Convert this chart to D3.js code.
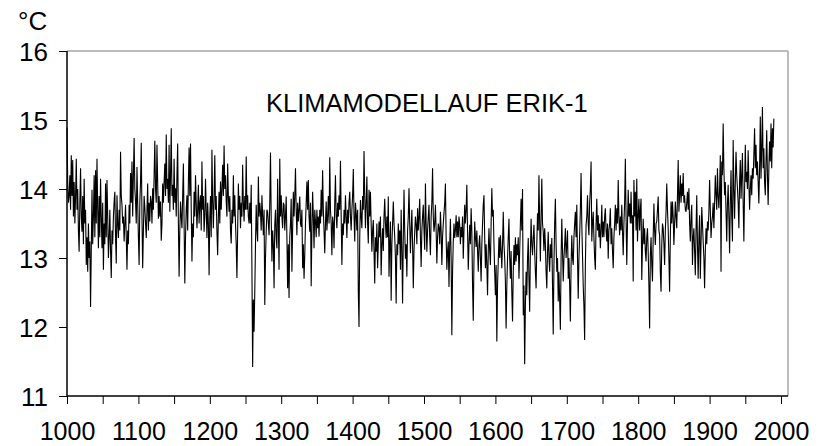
<!DOCTYPE html>
<html>
<head>
<meta charset="utf-8">
<script src="https://cdn.jsdelivr.net/npm/d3@7"></script>
<style>
  html, body { margin: 0; padding: 0; background: #fff; }
  svg { display: block; }
  text { font-family: "Liberation Sans", Arial, sans-serif; fill: #000; }
</style>
</head>
<body>
<div id="chart"></div>
<script>
// ---- data ----
const startYear = 1000;
const temps = [
14.89,14.1,13.8,13.9,14.2,13.7,14.49,13.9,14.42,13.6,
14.1,13.5,13.9,14.44,13.7,14.0,13.4,13.09,13.8,14.30,
13.6,13.38,13.9,13.2,14.15,13.5,13.7,12.90,13.3,12.80,
13.5,13.0,13.24,12.29,13.1,13.99,13.2,13.6,14.20,13.3,
14.27,13.5,14.44,13.7,13.14,13.9,13.3,14.15,13.6,13.14,
13.8,12.83,13.5,13.2,14.08,13.3,14.13,13.6,13.0,13.29,
13.7,13.1,12.71,13.4,13.2,13.6,13.82,13.96,13.3,12.92,
13.91,13.5,13.29,13.7,13.4,14.54,13.9,13.77,13.5,13.6,
13.24,13.5,13.77,13.3,12.83,13.4,13.2,13.77,13.5,14.23,
13.8,14.40,13.6,14.2,14.74,14.0,13.82,13.5,14.32,13.8,
13.3,12.90,13.8,14.1,14.67,13.6,12.85,13.4,13.9,13.74,
13.5,13.29,13.7,14.08,13.4,13.8,13.53,13.9,13.82,13.5,
14.01,13.7,14.2,14.70,14.0,13.8,14.64,14.1,13.57,13.9,
13.6,13.82,13.25,13.5,14.08,13.8,14.1,14.37,13.9,14.79,
14.0,14.15,13.8,14.64,13.67,14.2,14.88,13.9,14.06,13.7,
14.44,13.8,14.01,13.6,14.2,14.66,13.5,12.73,13.4,13.82,
13.6,13.43,13.9,14.37,13.5,12.63,13.3,13.7,13.91,13.4,
14.1,14.60,13.9,14.66,13.7,12.95,13.5,13.3,13.96,13.6,
14.20,13.8,13.43,13.7,14.06,13.5,13.8,13.91,13.4,14.40,
13.7,13.9,13.38,13.6,14.15,13.7,13.29,13.8,13.5,12.75,
13.6,13.9,13.3,14.57,13.8,13.43,13.9,14.49,13.7,13.9,
13.38,13.04,13.6,13.96,13.5,14.11,13.7,14.0,14.35,13.9,
14.63,14.0,14.2,13.82,13.6,14.37,13.9,13.67,13.9,13.4,
13.21,13.7,13.5,14.20,13.6,13.91,13.5,13.2,12.71,13.4,
14.08,13.7,13.9,13.43,13.8,13.6,14.35,13.8,13.53,13.9,
13.7,14.47,13.7,13.91,13.6,13.50,13.8,13.5,14.06,12.85,
11.42,12.4,11.93,12.51,13.2,13.77,13.4,13.24,14.18,13.6,
13.8,13.67,13.4,13.91,13.6,13.33,13.7,12.32,13.0,13.38,
13.7,13.67,13.5,13.33,13.8,14.53,13.6,12.95,13.4,13.2,
12.56,13.48,13.7,13.3,13.14,14.15,13.5,12.83,14.44,13.6,
13.91,13.6,13.43,13.8,13.77,13.4,13.6,13.89,13.3,12.56,
13.2,12.42,13.3,13.5,13.86,12.80,13.4,13.96,13.6,13.9,
14.30,13.7,13.33,13.8,13.53,13.7,13.89,13.5,13.45,13.7,
12.85,13.2,12.70,13.04,13.5,13.8,14.11,13.7,14.13,13.6,
13.38,13.8,12.59,13.4,13.96,13.6,13.14,13.7,13.53,13.3,
13.7,13.43,13.6,13.31,13.7,13.5,13.99,13.6,14.27,13.7,
13.4,13.07,13.5,13.82,13.4,13.60,13.9,13.5,14.46,13.7,
13.5,13.04,13.6,13.5,13.14,13.8,14.20,13.6,13.43,13.8,
13.6,13.91,13.7,14.41,13.6,12.90,13.5,13.33,13.7,13.5,
13.91,13.6,13.29,13.7,13.5,13.8,13.96,13.6,13.4,13.7,
13.9,14.29,13.6,13.24,13.8,13.65,13.4,13.7,12.5,12.0,
13.3,13.84,13.6,13.43,13.9,13.7,14.55,13.9,13.43,13.8,
14.18,13.5,13.21,13.99,13.6,13.96,13.5,13.09,13.4,13.55,
13.1,12.63,13.3,13.09,13.5,12.85,13.2,13.53,13.3,13.6,
12.75,13.2,13.43,13.1,13.6,13.86,13.5,13.29,13.6,13.3,
13.89,12.73,13.2,13.53,12.38,13.2,13.5,13.82,13.5,13.31,
13.0,12.34,13.2,13.04,13.5,13.2,13.4,12.83,13.70,13.1,
12.34,13.3,13.99,13.4,12.99,13.2,12.73,13.4,13.6,14.01,
13.5,13.07,13.4,13.70,13.2,12.56,13.1,13.38,13.6,13.48,
13.2,13.72,13.4,13.6,13.86,13.3,12.87,13.4,13.6,13.77,
13.4,13.12,14.08,13.5,13.09,13.4,13.6,13.77,13.3,13.04,
13.6,13.8,14.30,13.6,13.38,13.5,13.77,13.4,12.92,13.3,
13.5,13.43,13.2,13.67,13.4,12.90,13.3,13.5,13.65,13.8,
14.08,13.3,12.83,13.1,13.24,12.58,13.2,13.57,13.0,11.88,
12.8,13.24,13.5,13.29,13.4,13.62,13.3,13.53,13.3,13.6,
13.48,13.2,13.45,13.3,13.6,12.99,13.4,13.77,13.5,13.7,
14.06,13.4,12.83,13.2,13.48,13.2,13.72,13.4,12.6,12.09,
13.0,13.53,13.3,13.16,13.4,13.1,12.80,13.2,13.33,13.0,
12.66,13.2,13.5,13.77,13.91,13.3,12.85,13.2,12.9,12.46,
13.1,13.43,13.1,12.90,13.5,14.01,13.6,13.70,13.2,12.8,
12.46,12.9,11.79,12.6,12.95,13.3,13.0,13.33,13.1,12.85,
13.2,13.67,13.2,13.0,12.66,11.98,12.6,12.99,13.3,13.57,
13.0,12.70,13.1,12.5,12.08,12.8,13.19,12.9,13.3,12.95,
13.2,13.04,13.3,12.70,13.1,13.5,13.86,13.4,14.0,12.17,
12.6,11.46,12.3,12.8,12.46,13.0,13.29,12.7,12.22,13.1,
13.57,13.2,13.04,13.3,13.48,13.1,12.8,12.56,13.2,13.65,
13.4,14.20,13.5,12.95,13.6,14.15,13.5,13.38,13.1,13.43,
13.2,12.8,12.56,13.1,13.38,13.0,12.80,13.2,13.0,13.29,
12.6,11.89,12.9,13.5,13.86,13.2,12.80,13.0,12.37,12.8,
12.4,11.96,13.0,13.57,13.1,12.66,13.0,13.2,13.43,13.0,
13.19,13.4,12.70,13.0,12.6,12.08,12.9,13.33,13.0,12.90,
13.3,13.5,13.67,13.3,13.77,13.0,12.41,13.0,13.33,13.7,
14.23,13.5,13.04,12.6,12.3,11.81,12.9,13.48,13.6,13.91,
13.5,13.33,13.8,14.0,14.40,13.24,13.5,13.67,13.3,13.0,
12.83,13.5,13.86,13.4,13.62,13.3,13.5,13.14,13.4,13.77,
13.3,13.53,13.3,13.6,13.72,13.4,13.24,13.5,12.99,13.4,
13.5,13.72,13.2,13.43,13.1,12.85,13.3,13.5,13.77,13.4,
13.72,13.5,14.13,13.6,13.33,13.6,13.4,13.77,13.4,13.04,
13.5,13.8,14.44,13.6,12.90,13.5,13.99,13.6,13.79,13.5,
13.96,13.5,13.62,12.66,14.13,13.6,13.96,13.4,14.15,13.24,
13.6,13.86,13.4,13.7,13.86,12.68,13.2,13.57,13.2,13.43,
13.1,12.95,13.3,13.43,13.09,12.6,11.98,13.04,13.3,12.9,
12.66,13.3,13.79,13.4,13.19,13.5,13.53,13.7,13.89,13.4,
13.33,12.8,12.51,13.19,13.5,13.43,13.2,12.90,13.4,13.67,
14.08,13.7,13.43,13.0,12.51,13.3,13.82,13.5,13.82,13.6,
13.19,13.5,13.82,13.6,13.43,13.9,14.42,13.67,13.9,14.20,
13.8,14.08,13.9,14.23,13.8,13.91,13.7,13.67,13.8,13.96,
13.7,14.01,13.5,13.24,13.6,13.77,12.90,13.3,13.43,13.1,
12.75,13.4,13.91,13.2,12.70,13.3,13.62,12.70,13.2,13.74,
13.5,13.24,13.0,12.56,13.1,13.43,13.2,13.53,13.4,13.67,
14.13,13.7,13.29,13.5,13.60,13.8,13.43,13.8,14.20,13.91,
13.7,14.30,13.9,13.72,14.0,14.49,12.80,14.40,14.2,14.95,
14.3,13.91,14.1,13.67,13.24,13.8,14.06,13.6,13.07,13.8,
14.27,13.6,13.24,14.71,14.0,13.57,14.1,14.54,14.2,14.01,
13.8,13.43,14.1,14.42,13.86,14.2,14.52,13.8,13.24,14.0,
14.64,14.1,14.25,14.0,14.56,14.1,13.70,14.0,14.20,13.91,
14.3,14.15,14.5,14.88,14.3,14.64,14.2,14.40,14.1,13.79,
14.3,15.05,14.15,14.6,15.19,14.3,14.59,14.1,13.91,14.4,
14.85,14.2,13.77,14.3,14.69,14.4,14.95,14.3,14.88,14.6,
15.02
];
const years = temps.map((_, i) => startYear + i);
const yTickValues = [11, 12, 13, 14, 15, 16];
const xTickValues = d3.range(1000, 2001, 50);
const xLabelYears = [1000, 1100, 1200, 1300, 1400, 1500, 1600, 1700, 1800, 1900, 2000];
const titleText = "KLIMAMODELLAUF ERIK-1";
const unitText = "°C";

// ---- layout ----
const W = 821, H = 446;
const plotLeft = 67, plotTop = 51, plotBottom = 396, xEnd = 781, frameRight = 788;
const fontStack = '"Liberation Sans", Arial, sans-serif';

const svg = d3.select("#chart").append("svg")
  .attr("width", W).attr("height", H);

const x = d3.scaleLinear().domain([1000, 2000]).range([plotLeft, xEnd]);
const y = d3.scaleLinear().domain([11, 16]).range([plotBottom, plotTop]);

// frame (top & right, gray)
svg.append("line").attr("x1", plotLeft).attr("x2", frameRight)
  .attr("y1", plotTop).attr("y2", plotTop)
  .attr("stroke", "#a6a6a6").attr("stroke-width", 1.5);
svg.append("line").attr("x1", frameRight).attr("x2", frameRight)
  .attr("y1", plotTop).attr("y2", plotBottom)
  .attr("stroke", "#a6a6a6").attr("stroke-width", 1.5);

// data line
const line = d3.line()
  .x((d, i) => x(years[i]))
  .y(d => y(d));
svg.append("path").datum(temps)
  .attr("d", line)
  .attr("fill", "none")
  .attr("stroke", "#000")
  .attr("stroke-width", 1.1)
  .attr("stroke-linejoin", "miter");

// y axis
const yAxis = d3.axisLeft(y).tickValues(yTickValues).tickSize(8).tickPadding(11)
  .tickFormat(d3.format("d"));
const gy = svg.append("g").attr("transform", `translate(${plotLeft},0)`).call(yAxis);
gy.select(".domain").attr("stroke", "#000").attr("stroke-width", 1.5)
  .attr("d", `M0,${plotTop}V${plotBottom}`);
gy.selectAll(".tick line").attr("stroke", "#000");
gy.selectAll(".tick text").style("font-size", "26px")
  .style("font-family", fontStack).attr("dy", "0.36em");

// x axis
const xAxis = d3.axisBottom(x).tickValues(xTickValues).tickSize(8).tickPadding(18.5)
  .tickFormat(d => xLabelYears.includes(d) ? String(d) : "");
const gx = svg.append("g").attr("transform", `translate(0,${plotBottom})`).call(xAxis);
gx.select(".domain").attr("stroke", "#000").attr("stroke-width", 1.5)
  .attr("d", `M${plotLeft},0H${frameRight}`);
gx.selectAll(".tick line").attr("stroke", "#000");
gx.selectAll(".tick text").style("font-size", "25px")
  .style("font-family", fontStack);

// unit
svg.append("text").attr("x", 18).attr("y", 30)
  .style("font-size", "26px").text(unitText);

// title
svg.append("text").attr("x", 266).attr("y", 112)
  .style("font-size", "25.5px").text(titleText);
</script>
</body>
</html>
